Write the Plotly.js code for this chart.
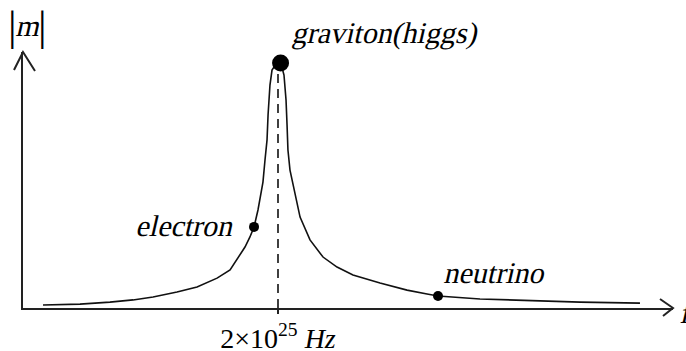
<!DOCTYPE html>
<html><head><meta charset="utf-8">
<script src="https://cdn.plot.ly/plotly-3.0.1.min.js"></script>
<style>html,body{margin:0;padding:0;background:#fff}#chart{width:686px;height:351px}</style>
</head><body><div id="chart"></div>
<script>
// frequency in units of 10^25 Hz, |m| relative to the graviton peak
const curveX = [0.157,0.447,0.682,0.863,1.020,1.208,1.365,1.522,1.624,1.678,1.741,1.780,1.812,1.843,1.867,1.882,1.898,1.914,1.922,1.937,1.953,1.984,2.000,
                2.024,2.047,2.063,2.071,2.078,2.094,2.133,2.173,2.251,2.353,2.463,2.588,2.800,3.012,3.169,3.255,3.584,3.976,4.369,4.839];
const curveY = [0.012,0.016,0.024,0.033,0.045,0.065,0.086,0.122,0.155,0.196,0.249,0.290,0.331,0.400,0.461,0.514,0.604,0.686,0.788,0.910,0.971,0.996,1.000,
                0.996,0.951,0.849,0.747,0.645,0.563,0.469,0.371,0.278,0.208,0.167,0.135,0.102,0.073,0.057,0.049,0.037,0.029,0.024,0.020];
const pointNames = ['electron', 'graviton(higgs)', 'neutrino'];
const pointX = [1.812, 2.02, 3.255];
const pointY = [0.331, 1.0, 0.049];
const peakFreq = [2, 2];
const peakLine = [0, 1];
const tickVals = [2];
const tickLabels = ['2×10<sup>25</sup> <i>Hz</i>'];
const yLabel = 'm';
const xLabel = 'f';

// pixel -> paper helpers (plot area: x 23..673, y 52..308)
const PX = p => (p - 23) / 650;
const PY = p => (308 - p) / 256;
const FAM = 'Liberation Serif';

const traces = [
  {x: curveX, y: curveY, mode: 'lines', line: {color: '#111', width: 1.6}},
  {x: peakFreq, y: peakLine, mode: 'lines', line: {color: '#111', width: 1.6, dash: '9px,6px'}},
  {x: pointX, y: pointY, mode: 'markers', text: pointNames,
   marker: {color: '#000', opacity: 1, size: [10, 17, 10], line: {width: 0}}}
];

function label(text, cx, cy, size, anchor) {
  return {text: text, xref: 'paper', yref: 'paper', x: PX(cx), y: PY(cy), xanchor: anchor || 'center', yanchor: 'middle',
          showarrow: false, font: {family: FAM, size: size || 30, color: '#000'}};
}

const layout = {
  width: 686, height: 351,
  margin: {l: 23, r: 13, t: 52, b: 43},
  showlegend: false,
  xaxis: {range: [0, 5.098], showline: true, linecolor: '#222', linewidth: 2, showgrid: false, zeroline: false,
          tickvals: tickVals, ticktext: tickLabels, ticks: 'outside', ticklen: 4, tickwidth: 1.6, tickcolor: '#222',
          tickfont: {family: FAM, size: 28, color: '#000'}},
  yaxis: {range: [0, 1.045], showline: true, linecolor: '#222', linewidth: 2, showgrid: false, zeroline: false,
          showticklabels: false, ticks: ''},
  shapes: [
    {type: 'path', xref: 'paper', yref: 'paper', line: {color: '#222', width: 2},
     path: `M${PX(14)},${PY(70)} L${PX(23)},${PY(52)} L${PX(35)},${PY(71)}`},
    {type: 'path', xref: 'paper', yref: 'paper', line: {color: '#222', width: 2},
     path: `M${PX(660)},${PY(299)} L${PX(673)},${PY(308)} L${PX(663)},${PY(316)}`}
  ],
  annotations: [
    label('|', 12, 25, 43),
    label(yLabel, 27, 25, 30),
    label('|', 42, 25, 43),
    label(pointNames[1], 384, 33),
    label(pointNames[0], 184, 225),
    label(pointNames[2], 494, 272),
    label(xLabel, 678, 312, 30, 'left')
  ]
};

Plotly.newPlot('chart', traces, layout, {displayModeBar: false, staticPlot: true}).then(() => {
  // slant the upright serif labels so they read as italic
  document.querySelectorAll('#chart .annotation-text').forEach(t => {
    if (t.textContent.trim() === '|') return;
    const bb = t.getBBox();
    const cx = bb.x + bb.width / 2, cy = bb.y + bb.height * 0.72;
    const prev = t.getAttribute('transform') || '';
    t.setAttribute('transform', `${prev} translate(${cx},${cy}) skewX(-13) translate(${-cx},${-cy})`.trim());
  });
});
</script></body></html>
